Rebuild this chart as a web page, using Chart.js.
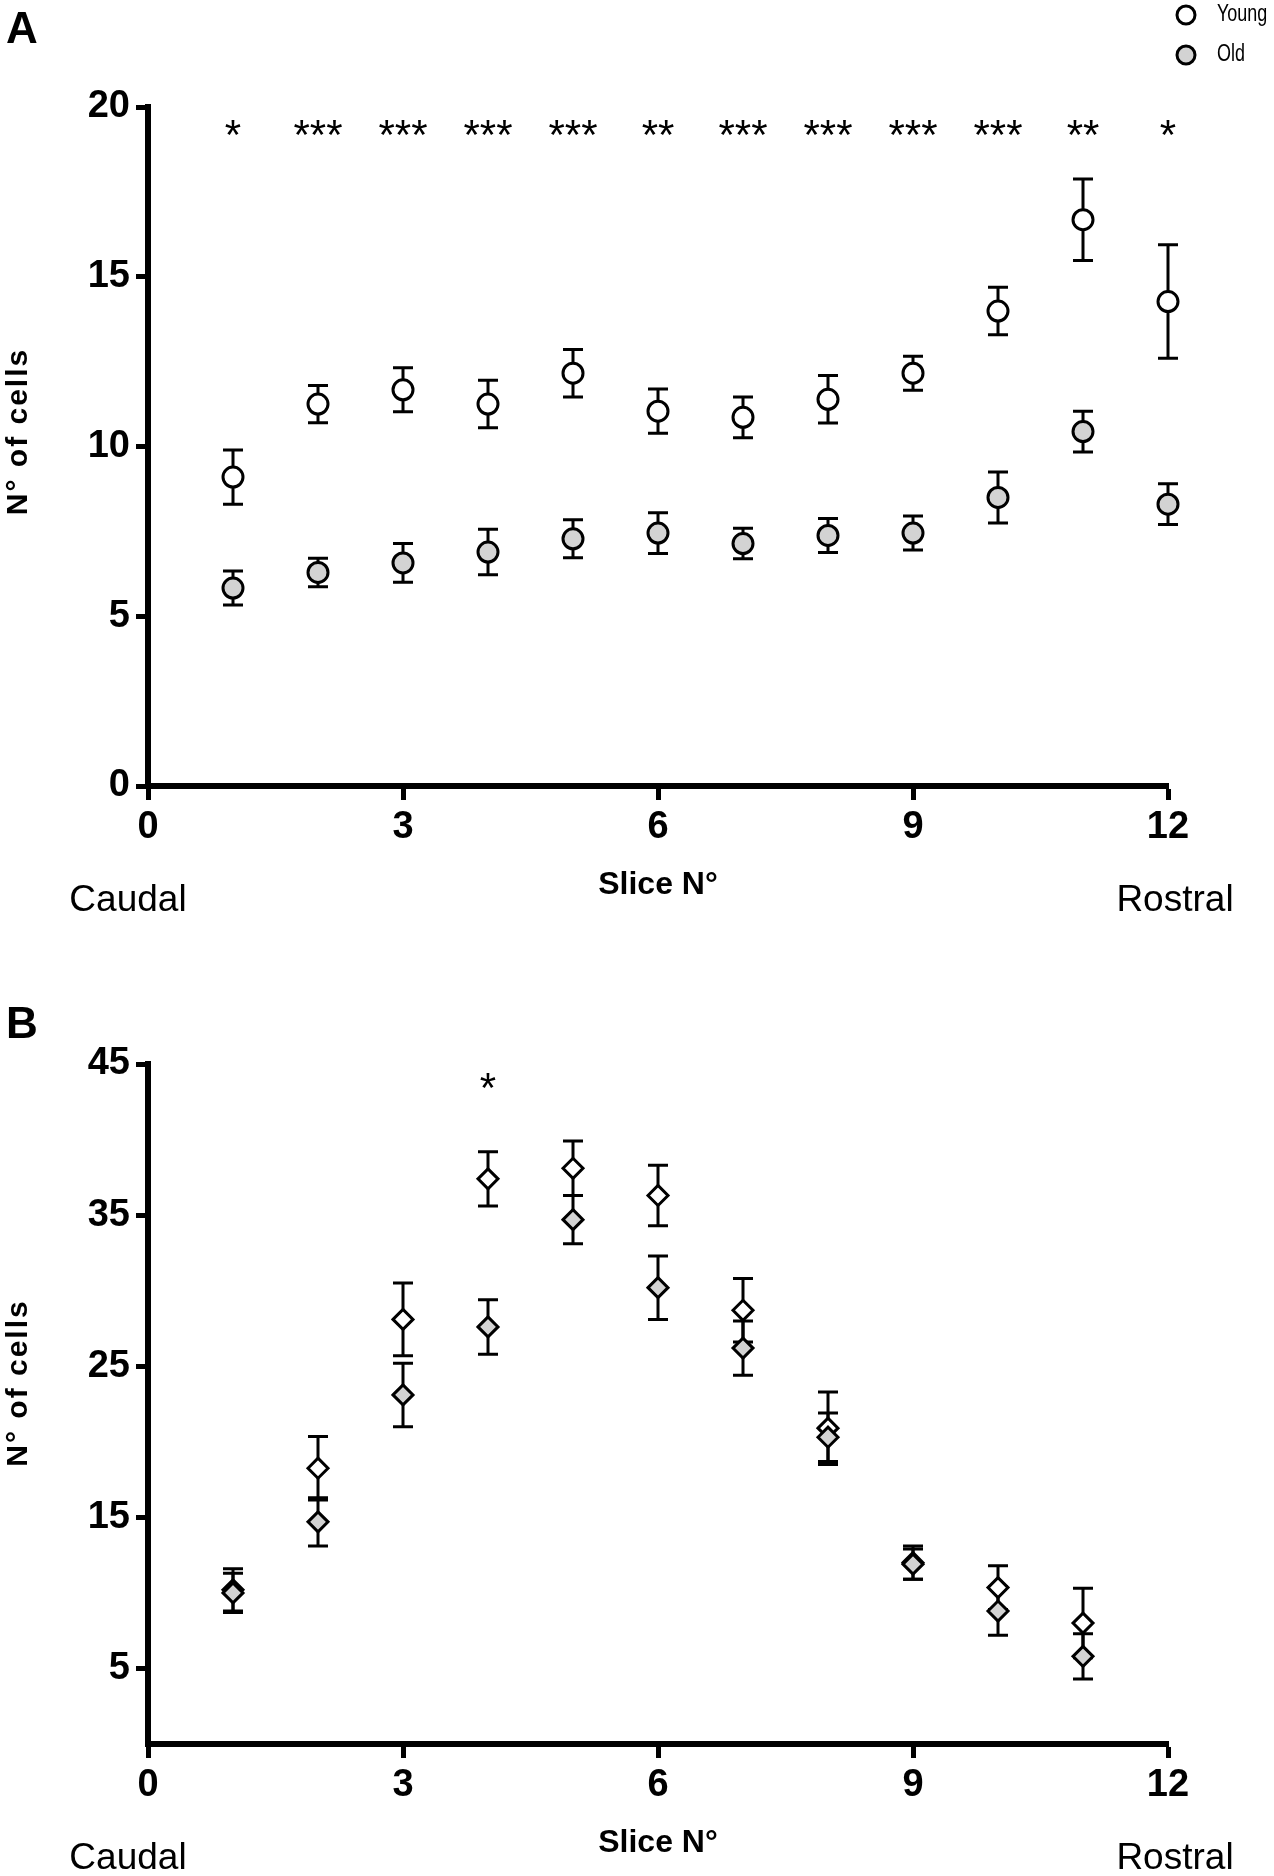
<!DOCTYPE html>
<html>
<head>
<meta charset="utf-8">
<script src="https://cdn.jsdelivr.net/npm/chart.js@4.4.1/dist/chart.umd.min.js"></script>
<style>
  body { margin: 0; background: #fff; }
  #wrap { position: relative; width: 1274px; height: 1876px; }
  canvas { position: absolute; left: 0; }
</style>
</head>
<body>
<div id="wrap">
  <canvas id="chartA" width="1274" height="940" style="top:0px"></canvas>
  <canvas id="chartB" width="1274" height="936" style="top:940px"></canvas>
</div>
<script>
// panel A - circles
var slicesA = [1, 2, 3, 4, 5, 6, 7, 8, 9, 10, 11, 12];
var youngA = [9.1, 11.25, 11.67, 11.25, 12.16, 11.04, 10.86, 11.39, 12.16, 13.99, 16.68, 14.27];
var youngErrA = [0.8, 0.55, 0.65, 0.7, 0.7, 0.65, 0.6, 0.7, 0.5, 0.7, 1.2, 1.67];
var oldA = [5.83, 6.29, 6.57, 6.89, 7.28, 7.45, 7.14, 7.38, 7.45, 8.5, 10.44, 8.3];
var oldErrA = [0.5, 0.42, 0.57, 0.67, 0.56, 0.6, 0.45, 0.5, 0.5, 0.75, 0.6, 0.6];
var starsA = ['*', '***', '***', '***', '***', '**', '***', '***', '***', '***', '**', '*'];
var starLevelA = 19.38;

// panel B - diamonds
var slicesB = [1, 2, 3, 4, 5, 6, 7, 8, 9, 10, 11];
var youngB = [10.2, 18.25, 28.1, 37.4, 38.1, 36.3, 28.7, 20.9, 12.0, 10.35, 8.0];
var youngErrB = [1.4, 2.1, 2.4, 1.8, 1.8, 2.0, 2.1, 2.4, 1.1, 1.45, 2.3];
var oldB = [10.0, 14.7, 23.1, 27.6, 34.7, 30.2, 26.2, 20.3, 11.9, 8.8, 5.8];
var oldErrB = [1.3, 1.6, 2.1, 1.8, 1.6, 2.1, 1.8, 1.6, 1.0, 1.6, 1.5];
var starsB = ['', '', '', '*', '', '', '', '', '', '', ''];
var starLevelB = 43.9;

var xTicks = [0, 3, 6, 9, 12];
var yTicksA = [0, 5, 10, 15, 20];
var yTicksB = [5, 15, 25, 35, 45];

var OLD_GREY = '#d3d3d3';
var SANS = "'Liberation Sans', Arial, sans-serif";

function pts(xs, ys) {
  return xs.map(function (x, i) { return { x: x, y: ys[i] }; });
}

// error bars go under the symbols
var errorBars = {
  id: 'errorBars',
  beforeDatasetsDraw: function (chart) {
    var ctx = chart.ctx, xs = chart.scales.x, ys = chart.scales.y;
    ctx.save();
    ctx.strokeStyle = '#000';
    ctx.lineWidth = 3;
    chart.data.datasets.forEach(function (ds) {
      ds.data.forEach(function (p, i) {
        var e = ds.errors[i];
        var px = xs.getPixelForValue(p.x);
        var top = ys.getPixelForValue(p.y + e);
        var bot = ys.getPixelForValue(p.y - e);
        ctx.beginPath();
        ctx.moveTo(px, top); ctx.lineTo(px, bot);
        ctx.moveTo(px - 10, top); ctx.lineTo(px + 10, top);
        ctx.moveTo(px - 10, bot); ctx.lineTo(px + 10, bot);
        ctx.stroke();
      });
    });
    ctx.restore();
  }
};

// stars, axis captions, panel letter, legend
var extras = {
  id: 'extras',
  afterDraw: function (chart, args, o) {
    var ctx = chart.ctx, xs = chart.scales.x, ys = chart.scales.y, ca = chart.chartArea;
    ctx.save();
    ctx.fillStyle = '#000';

    // significance stars
    ctx.font = '42px ' + SANS;
    ctx.textAlign = 'center';
    ctx.textBaseline = 'alphabetic';
    o.stars.forEach(function (s, i) {
      if (!s) return;
      ctx.fillText(s, xs.getPixelForValue(o.slices[i]), ys.getPixelForValue(o.starLevel) + 21);
    });

    // panel letter
    ctx.textAlign = 'left';
    ctx.font = 'bold 44px ' + SANS;
    ctx.fillText(o.letter, 6, o.letterY);

    // x title + ends
    ctx.textAlign = 'center';
    ctx.font = 'bold 32px ' + SANS;
    ctx.fillText('Slice N°', (ca.left + ca.right) / 2, ca.bottom + 108);
    ctx.font = '37px ' + SANS;
    ctx.fillText('Caudal', xs.getPixelForValue(0) - 20, ca.bottom + 125);
    ctx.fillText('Rostral', xs.getPixelForValue(12) + 7, ca.bottom + 125);

    // y title
    ctx.save();
    ctx.translate(27, (ca.top + ca.bottom) / 2 - o.titleShift);
    ctx.rotate(-Math.PI / 2);
    ctx.font = 'bold 30px ' + SANS;
    ctx.letterSpacing = '2px';
    ctx.textAlign = 'center';
    ctx.fillText('N° of cells', 0, 0);
    ctx.restore();

    // legend (panel A only)
    if (o.legend) {
      chart.data.datasets.forEach(function (ds, i) {
        var ly = 15 + i * 40;
        ctx.beginPath();
        ctx.arc(1186, ly, 9, 0, Math.PI * 2);
        ctx.fillStyle = ds.backgroundColor;
        ctx.fill();
        ctx.lineWidth = 3;
        ctx.strokeStyle = '#000';
        ctx.stroke();
        ctx.fillStyle = '#000';
        ctx.save();
        ctx.translate(1217, ly);
        ctx.scale(0.78, 1);
        ctx.font = '23px ' + SANS;
        ctx.textAlign = 'left';
        ctx.textBaseline = 'middle';
        ctx.fillText(ds.label, 0, 0);
        ctx.restore();
      });
    }
    ctx.restore();
  }
};

function axisX(h) {
  return {
    type: 'linear', min: 0, max: 12,
    afterFit: function (s) { s.height = h; },
    afterBuildTicks: function (s) { s.ticks = xTicks.map(function (v) { return { value: v }; }); },
    border: { display: true, color: '#000', width: 6 },
    grid: { display: true, drawOnChartArea: false, drawTicks: true, tickLength: 14, tickWidth: 5, tickColor: '#000' },
    ticks: { color: '#000', padding: 5, font: { family: SANS, size: 38, weight: 'bold' } }
  };
}

function axisY(max, tickVals) {
  return {
    type: 'linear', min: 0, max: max,
    afterFit: function (s) { s.width = 148; },
    afterBuildTicks: function (s) { s.ticks = tickVals.map(function (v) { return { value: v }; }); },
    border: { display: true, color: '#000', width: 6 },
    grid: { display: true, drawOnChartArea: false, drawTicks: true, tickLength: 12, tickWidth: 5, tickColor: '#000' },
    ticks: { color: '#000', padding: 6, font: { family: SANS, size: 38, weight: 'bold' } }
  };
}

function sym(label, xs, ys, errs, fill, style, r, order) {
  return {
    label: label,
    data: pts(xs, ys),
    errors: errs,
    backgroundColor: fill,
    borderColor: '#000',
    borderWidth: 3,
    pointStyle: style,
    pointRadius: r,
    pointHoverRadius: r,
    order: order,
    clip: false,
    showLine: false
  };
}

new Chart(document.getElementById('chartA'), {
  type: 'scatter',
  data: {
    datasets: [
      sym('Young', slicesA, youngA, youngErrA, '#ffffff', 'circle', 10, 1),
      sym('Old', slicesA, oldA, oldErrA, OLD_GREY, 'circle', 10, 0)
    ]
  },
  options: {
    responsive: false,
    animation: false,
    layout: { padding: { left: 0, top: 107, right: 106, bottom: 0 } },
    scales: { x: axisX(154), y: axisY(20, yTicksA) },
    plugins: {
      legend: { display: false },
      tooltip: { enabled: false },
      extras: { stars: starsA, slices: slicesA, starLevel: starLevelA, letter: 'A', letterY: 43, titleShift: 15, legend: true }
    }
  },
  plugins: [errorBars, extras]
});

new Chart(document.getElementById('chartB'), {
  type: 'scatter',
  data: {
    datasets: [
      sym('Young', slicesB, youngB, youngErrB, '#ffffff', 'rectRot', 10, 1),
      sym('Old', slicesB, oldB, oldErrB, OLD_GREY, 'rectRot', 10, 0)
    ]
  },
  options: {
    responsive: false,
    animation: false,
    layout: { padding: { left: 0, top: 124, right: 106, bottom: 0 } },
    scales: { x: axisX(132), y: axisY(45, yTicksB) },
    plugins: {
      legend: { display: false },
      tooltip: { enabled: false },
      extras: { stars: starsB, slices: slicesB, starLevel: starLevelB, letter: 'B', letterY: 98, titleShift: 21, legend: false }
    }
  },
  plugins: [errorBars, extras]
});
</script>
</body>
</html>
